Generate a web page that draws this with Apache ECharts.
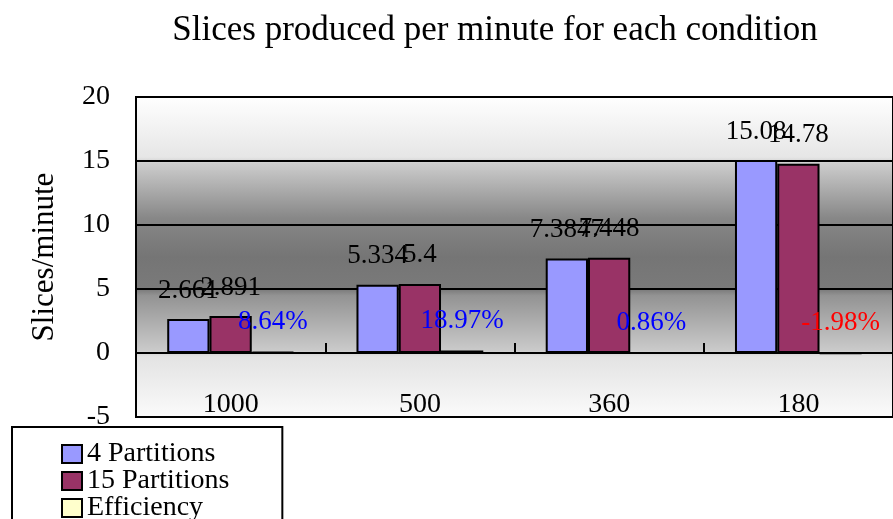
<!DOCTYPE html>
<html>
<head>
<meta charset="utf-8">
<script src="https://cdn.jsdelivr.net/npm/echarts@6/dist/echarts.min.js"></script>
<style>
  html, body { margin: 0; padding: 0; background: #ffffff; }
  #chart { width: 893px; height: 519px; }
</style>
</head>
<body>
<div id="chart"></div>
<script>
// Projection counts along the category axis
const projections = ['1000', '500', '360', '180'];
// Slices produced per minute
const partitions4 = [2.661, 5.334, 7.3847, 15.08];
const partitions15 = [2.891, 5.4, 7.448, 14.78];
// Efficiency gain of 15 partitions over 4 partitions (fraction)
const efficiency = [0.0864, 0.1897, 0.0086, -0.0198];
// Value axis ticks
const yMin = -5, yMax = 20, yStep = 5;

const FONT = "'Liberation Serif', 'DejaVu Serif', serif";

const chart = echarts.init(document.getElementById('chart'), null, { renderer: 'canvas' });

const barLabel = {
  show: true,
  position: 'top',
  distance: 15,
  color: '#000000',
  fontFamily: FONT,
  fontSize: 27
};

chart.setOption({
  animation: false,
  backgroundColor: '#ffffff',
  title: {
    text: 'Slices produced per minute for each condition',
    left: 490,
    textAlign: 'center',
    top: 8,
    textStyle: { fontFamily: FONT, fontSize: 35, fontWeight: 'normal', color: '#000000' }
  },
  legend: {
    type: 'plain',
    orient: 'vertical',
    left: 12,
    top: 427,
    height: 140,
    padding: [13, 53, 40, 49],
    backgroundColor: '#ffffff',
    borderColor: '#000000',
    borderWidth: 2,
    borderRadius: 0,
    itemWidth: 20,
    itemHeight: 18,
    itemGap: -1,
    icon: 'rect',
    itemStyle: { borderColor: '#000000', borderWidth: 2 },
    textStyle: { fontFamily: FONT, fontSize: 28, color: '#000000', lineHeight: 24 },
    data: ['4 Partitions', '15 Partitions', 'Efficiency']
  },
  grid: {
    left: 136,
    top: 97,
    bottom: 102,
    right: -10,
    show: true,
    borderColor: '#000000',
    borderWidth: 2,
    backgroundColor: {
      type: 'linear', x: 0, y: 0, x2: 0, y2: 1,
      colorStops: [
        { offset: 0.00, color: '#ffffff' },
        { offset: 0.19, color: '#e6e6e6' },
        { offset: 0.21, color: '#cccccc' },
        { offset: 0.38, color: '#878787' },
        { offset: 0.50, color: '#757575' },
        { offset: 0.60, color: '#7a7a7a' },
        { offset: 0.62, color: '#939393' },
        { offset: 0.79, color: '#cacaca' },
        { offset: 0.81, color: '#e3e3e3' },
        { offset: 1.00, color: '#fbfbfb' }
      ]
    }
  },
  xAxis: [
    {
      type: 'category',
      data: projections,
      position: 'bottom',
      axisLine: { show: false, onZero: false },
      axisTick: { show: false },
      axisLabel: {
        inside: true,
        margin: -2,
        fontFamily: FONT,
        fontSize: 28,
        color: '#000000'
      },
      splitLine: { show: false }
    },
    {
      type: 'category',
      data: projections,
      position: 'top',
      axisLine: { show: true, onZero: true, lineStyle: { color: '#000000', width: 2 } },
      axisTick: { show: true, inside: false, length: 10, lineStyle: { color: '#000000', width: 2 } },
      axisLabel: { show: false },
      splitLine: { show: false }
    }
  ],
  yAxis: {
    type: 'value',
    min: yMin,
    max: yMax,
    interval: yStep,
    name: 'Slices/minute',
    nameLocation: 'middle',
    nameRotate: 90,
    nameGap: 76,
    nameTextStyle: { fontFamily: FONT, fontSize: 31, color: '#000000' },
    axisLine: { show: true, lineStyle: { color: '#000000', width: 2 } },
    axisTick: { show: false },
    axisLabel: { margin: 26, fontFamily: FONT, fontSize: 28, color: '#000000' },
    splitLine: { show: true, lineStyle: { color: '#000000', width: 2 } }
  },
  series: [
    {
      name: '4 Partitions',
      type: 'bar',
      xAxisIndex: 0,
      data: partitions4,
      barGap: '0%',
      barCategoryGap: '33%',
      itemStyle: { color: '#9999ff', borderColor: '#000000', borderWidth: 2 },
      label: barLabel
    },
    {
      name: '15 Partitions',
      type: 'bar',
      xAxisIndex: 0,
      data: partitions15,
      barGap: '0%',
      barCategoryGap: '33%',
      itemStyle: { color: '#993366', borderColor: '#000000', borderWidth: 2 },
      label: barLabel
    },
    {
      name: 'Efficiency',
      type: 'bar',
      xAxisIndex: 0,
      // positive gains in blue, losses in red
      data: efficiency.map(v => ({
        value: v,
        label: { color: v < 0 ? '#ff0000' : '#0000ff' }
      })),
      barGap: '0%',
      barCategoryGap: '33%',
      itemStyle: { color: '#ffffcc', borderColor: '#000000', borderWidth: 2 },
      label: {
        show: true,
        position: 'top',
        distance: 16,
        fontFamily: FONT,
        fontSize: 27,
        formatter: p => (p.value * 100).toFixed(2) + '%'
      }
    }
  ]
});
</script>
</body>
</html>
